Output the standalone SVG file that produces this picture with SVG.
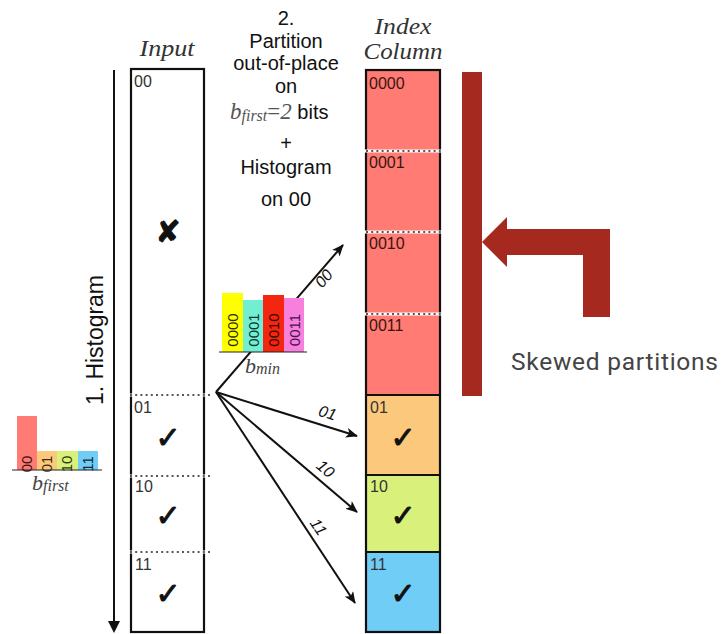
<svg xmlns="http://www.w3.org/2000/svg" width="725" height="634" viewBox="0 0 725 634">
  <style>
    .sans { font-family: "Liberation Sans", Arial, sans-serif; }
    .math { font-family: "Liberation Serif", "Times New Roman", serif; font-style: italic; }
    .step { font-family: "Liberation Sans", Arial, sans-serif; font-size: 20px; fill: #111; text-anchor: middle; }
    .head { font-family: "Liberation Serif", "Times New Roman", serif; font-style: italic; font-size: 23px; fill: #333; text-anchor: middle; }
    .box { fill: none; stroke: #111; stroke-width: 2.2; }
    .lbl { font-family: "Liberation Sans", Arial, sans-serif; font-size: 16px; fill: #333; }
    .ilbl { font-family: "Liberation Sans", Arial, sans-serif; font-size: 16px; fill: #3a1512; }
    .mark { font-family: "DejaVu Sans", sans-serif; font-size: 30px; fill: #111; stroke: #111; stroke-width: 1; text-anchor: middle; }
    .edge { stroke: #111; stroke-width: 2; fill: none; }
    .elbl { font-family: "Liberation Sans", Arial, sans-serif; font-style: italic; font-size: 16px; fill: #111; text-anchor: middle; }
    .barlbl { font-family: "Liberation Sans", Arial, sans-serif; font-size: 15px; text-anchor: middle; }
    .sep { stroke: #fff; stroke-width: 3; }
    .dots { stroke: #222; stroke-width: 1.6; stroke-dasharray: 2 3.2; }
    .skew { fill: #a62920; }
  </style>
  <defs>
    <marker id="arrow" viewBox="0 0 12 10" refX="11" refY="5" markerWidth="12" markerHeight="10" markerUnits="userSpaceOnUse" orient="auto">
      <path d="M0,0 L12,5 L0,10 L3,5 z" fill="#111"/>
    </marker>
  </defs>

  <rect width="725" height="634" fill="#fff"/>

  <!-- step 1: histogram over the whole input -->
  <g id="histogram-step">
    <line x1="114" y1="70" x2="114" y2="624" class="edge"/>
    <path d="M108,621 L114,633 L120,621 Z" fill="#111"/>
    <text transform="translate(103,340) rotate(-90)" class="sans" font-size="23" fill="#111" text-anchor="middle" textLength="130">1. Histogram</text>
  </g>

  <!-- histogram on b_first -->
  <g id="hist-bfirst">
    <rect x="17" y="416" width="20" height="54" fill="#ff7b73"/>
    <rect x="37" y="451" width="20" height="19" fill="#fcc97c"/>
    <rect x="57" y="451" width="21" height="19" fill="#d9f17b"/>
    <rect x="78" y="451" width="20" height="19" fill="#70cdf6"/>
    <line x1="12" y1="470" x2="102" y2="470" stroke="#222" stroke-width="1"/>
    <text transform="translate(31.5,464) rotate(-90)" class="barlbl" font-size="13" fill="#3a1512">00</text>
    <text transform="translate(51.5,464) rotate(-90)" class="barlbl" font-size="13" fill="#3a2a10">01</text>
    <text transform="translate(72,464) rotate(-90)" class="barlbl" font-size="13" fill="#2a3a10">10</text>
    <text transform="translate(92.5,464) rotate(-90)" class="barlbl" font-size="13" fill="#10283a">11</text>
    <text x="32" y="490" class="math" fill="#444"><tspan font-size="22">b</tspan><tspan font-size="16" dy="1">first</tspan></text>
  </g>

  <!-- headers -->
  <text x="167" y="56" class="head" textLength="55" lengthAdjust="spacingAndGlyphs">Input</text>
  <text x="403" y="34" class="head" textLength="57" lengthAdjust="spacingAndGlyphs">Index</text>
  <text x="403" y="59" class="head" textLength="79" lengthAdjust="spacingAndGlyphs">Column</text>

  <!-- step 2 description -->
  <g id="step2-text">
    <text x="286" y="25" class="step">2.</text>
    <text x="286" y="48" class="step">Partition</text>
    <text x="286" y="70" class="step">out-of-place</text>
    <text x="286" y="93" class="step">on</text>
    <text x="230" y="119"><tspan class="math" font-size="23" fill="#555">b</tspan><tspan class="math" font-size="16" fill="#555" dy="2">first</tspan><tspan font-family="Liberation Serif, serif" font-size="23" fill="#555" dy="-2">=</tspan><tspan class="math" font-size="23" fill="#555">2</tspan><tspan class="sans" font-size="20" fill="#111"> bits</tspan></text>
    <text x="286" y="150" class="step">+</text>
    <text x="286" y="174" class="step">Histogram</text>
    <text x="286" y="206" class="step">on 00</text>
  </g>

  <!-- connectors -->
  <g id="connectors">
    <line x1="216" y1="392" x2="343" y2="245" class="edge" marker-end="url(#arrow)"/>
    <line x1="216" y1="392" x2="357" y2="436" class="edge" marker-end="url(#arrow)"/>
    <line x1="216" y1="392" x2="357" y2="512" class="edge" marker-end="url(#arrow)"/>
    <line x1="216" y1="392" x2="355" y2="603" class="edge" marker-end="url(#arrow)"/>
    <text transform="translate(328,282) rotate(-50)" class="elbl">00</text>
    <text transform="translate(326,418) rotate(17)" class="elbl">01</text>
    <text transform="translate(322,473) rotate(40)" class="elbl">10</text>
    <text transform="translate(314,530) rotate(56)" class="elbl">11</text>
  </g>

  <!-- histogram on b_min -->
  <g id="hist-bmin">
    <rect x="222" y="293" width="21" height="59" fill="#ffff00"/>
    <rect x="243" y="300" width="20" height="52" fill="#72efd3"/>
    <rect x="263" y="295" width="21" height="57" fill="#f4260f"/>
    <rect x="284" y="298" width="20" height="54" fill="#f680dc"/>
    <line x1="219" y1="352" x2="307" y2="352" stroke="#222" stroke-width="1"/>
    <text transform="translate(238,330) rotate(-90)" class="barlbl" fill="#2e2e00">0000</text>
    <text transform="translate(258.5,330) rotate(-90)" class="barlbl" fill="#0c3530">0001</text>
    <text transform="translate(279,330) rotate(-90)" class="barlbl" fill="#3a0600">0010</text>
    <text transform="translate(299.5,330) rotate(-90)" class="barlbl" fill="#4a0f50">0011</text>
    <text x="245" y="373" class="math" fill="#444"><tspan font-size="22">b</tspan><tspan font-size="16" dy="1">min</tspan></text>
  </g>

  <!-- input column -->
  <g id="input">
    <rect x="131" y="69" width="73" height="563" class="box"/>
    <line x1="128" y1="395" x2="210" y2="395" class="sep"/>
    <line x1="130" y1="395" x2="210" y2="395" class="dots"/>
    <line x1="128" y1="476" x2="210" y2="476" class="sep"/>
    <line x1="130" y1="476" x2="210" y2="476" class="dots"/>
    <line x1="128" y1="552" x2="210" y2="552" class="sep"/>
    <line x1="130" y1="552" x2="210" y2="552" class="dots"/>
    <text x="134" y="87" class="lbl">00</text>
    <text x="134" y="413" class="lbl">01</text>
    <text x="135" y="492" class="lbl">10</text>
    <text x="135" y="570" class="lbl">11</text>
    <text x="168" y="242" class="mark" font-size="28">✘</text>
    <text x="168" y="448" class="mark">✓</text>
    <text x="168" y="526" class="mark">✓</text>
    <text x="168" y="604" class="mark">✓</text>
  </g>

  <!-- index column -->
  <g id="index-column">
    <rect x="366" y="70" width="74" height="325" fill="#ff7b73"/>
    <rect x="366" y="395" width="74" height="80" fill="#fcc97c"/>
    <rect x="366" y="475" width="74" height="77" fill="#d9f17b"/>
    <rect x="366" y="552" width="74" height="80" fill="#70cdf6"/>
    <line x1="366" y1="395" x2="440" y2="395" stroke="#111" stroke-width="2"/>
    <line x1="366" y1="475" x2="440" y2="475" stroke="#111" stroke-width="2"/>
    <line x1="366" y1="552" x2="440" y2="552" stroke="#111" stroke-width="2"/>
    <rect x="366" y="70" width="74" height="562" class="box"/>
    <line x1="364" y1="151" x2="444" y2="151" class="sep"/>
    <line x1="366" y1="151" x2="444" y2="151" class="dots"/>
    <line x1="364" y1="232" x2="444" y2="232" class="sep"/>
    <line x1="366" y1="232" x2="444" y2="232" class="dots"/>
    <line x1="364" y1="314" x2="444" y2="314" class="sep"/>
    <line x1="366" y1="314" x2="444" y2="314" class="dots"/>
    <text x="369" y="89" class="ilbl">0000</text>
    <text x="369" y="168" class="ilbl">0001</text>
    <text x="369" y="249" class="ilbl">0010</text>
    <text x="369" y="331" class="ilbl">0011</text>
    <text x="370" y="413" class="lbl">01</text>
    <text x="370" y="492" class="lbl">10</text>
    <text x="370" y="570" class="lbl">11</text>
    <text x="403" y="448" class="mark">✓</text>
    <text x="403" y="526" class="mark">✓</text>
    <text x="403" y="604" class="mark">✓</text>
  </g>

  <!-- skewed partitions callout -->
  <g id="skewed">
    <rect x="462" y="72" width="20" height="324" class="skew"/>
    <path d="M482,242 L507,217 L507,229 L610,229 L610,317 L583,317 L583,255 L507,255 L507,267 Z" class="skew"/>
    <text x="511" y="370" font-family="Roboto, 'Liberation Sans', sans-serif" font-size="24.5" fill="#444" textLength="207">Skewed partitions</text>
  </g>
</svg>
